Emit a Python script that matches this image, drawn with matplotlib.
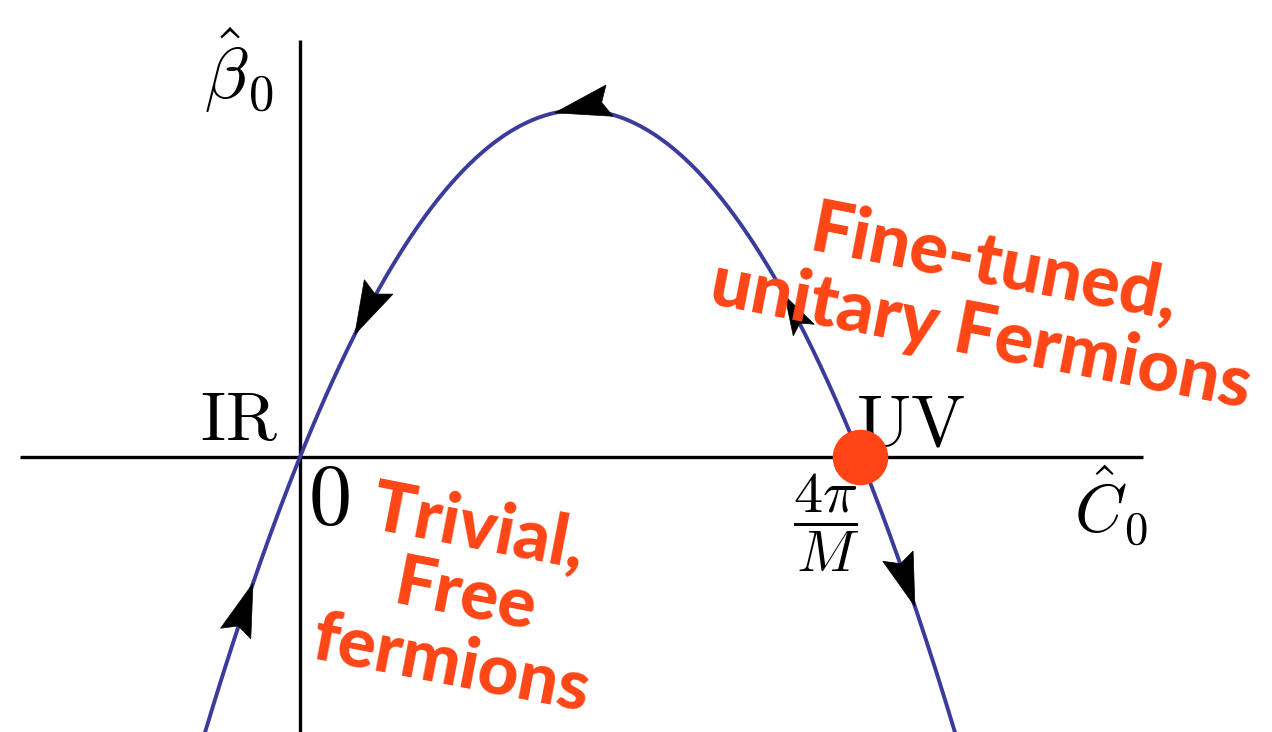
import numpy as np
import matplotlib
matplotlib.use("Agg")
import matplotlib.pyplot as plt
from matplotlib.patches import Polygon
from matplotlib.transforms import IdentityTransform

plt.rcParams['mathtext.fontset'] = 'cm'

# beta function in units where the UV fixed point sits at C0 = 4pi/M = 1
def beta(c):
    return c * (1.0 - c)

c_curve = np.linspace(-0.175, 1.18, 400)
uv_point = 1.0
ir_point = 0.0

# arrowheads along the flow: tip position, direction of travel in C0, size
arrow_tips = [0.455, 0.098, -0.084, 1.098, 0.866]
arrow_dirs = [-1, -1, 1, 1, -1]
arrow_sizes = [(53, 32), (50, 32), (50, 32), (50, 32), (36, 24)]

curve_color = '#3b3b9b'
label_red = '#ff4515'

fig = plt.figure(figsize=(12.72, 7.32), dpi=100)
ax = fig.add_axes([0, 0, 1, 1])
ax.set_xlim(-300 / 560, 972 / 560)
ax.set_ylim(-275 / 1388, 457 / 1388)
ax.axis('off')

# axes
ax.plot([-0.5, 1.505], [0, 0], color='black', lw=2.4, solid_capstyle='butt', zorder=2)
ax.plot([0, 0], [-0.2, 0.3004], color='black', lw=2.4, solid_capstyle='butt', zorder=2)

ax.plot(c_curve, beta(c_curve), color=curve_color, lw=2.8, zorder=3)


def arrowhead(c_tip, direction, length, width):
    tip = ax.transData.transform((c_tip, beta(c_tip)))
    nxt = ax.transData.transform((c_tip + 1e-4, beta(c_tip + 1e-4)))
    t = (nxt - tip) * direction
    t = t / np.hypot(*t)
    n = np.array([-t[1], t[0]])
    back = tip - t * length
    pts = [tip,
           back + n * width / 2 - t * 3,
           back + t * 5,
           back - n * width / 2 - t * 3]
    ax.add_patch(Polygon(pts, closed=True, facecolor='black', edgecolor='black',
                         lw=0.5, transform=IdentityTransform(), zorder=4))


for c, d, (L, W) in zip(arrow_tips, arrow_dirs, arrow_sizes):
    arrowhead(c, d, L, W)

# UV fixed point
ax.plot([uv_point], [beta(uv_point)], 'o', color=label_red, ms=39, zorder=5)

# math labels
ax.text(-0.048, 0.258, r'$\hat{\beta}_0$', fontsize=52, ha='right', va='baseline')
ax.text(-0.04, 0.0125, r'$\mathrm{IR}$', fontsize=50, ha='right', va='baseline')
ax.text(0.015, -0.048, r'$0$', fontsize=62, ha='left', va='baseline')
ax.text(0.992, 0.0074, r'$\mathrm{UV}$', fontsize=52, ha='left', va='baseline')
ax.text(0.94, -0.011, r'$\dfrac{4\pi}{M}$', fontsize=42, ha='center', va='top')
ax.text(1.382, -0.0550, r'$\hat{C}_0$', fontsize=48, ha='left', va='baseline')

# regime labels
ax.text(1.228, 0.113, 'Fine-tuned,\nunitary Fermions', fontsize=52, color=label_red,
        family='Lato', weight=900, rotation=-11, rotation_mode='anchor',
        ha='center', va='center', multialignment='center', linespacing=1.1, zorder=6)
ax.text(0.295, -0.1, 'Trivial,\nFree\nfermions', fontsize=51, color=label_red,
        family='Lato', weight=900, rotation=-11, rotation_mode='anchor',
        ha='center', va='center', multialignment='center', linespacing=1.08, zorder=6)

fig.savefig('out.png', dpi=100)
